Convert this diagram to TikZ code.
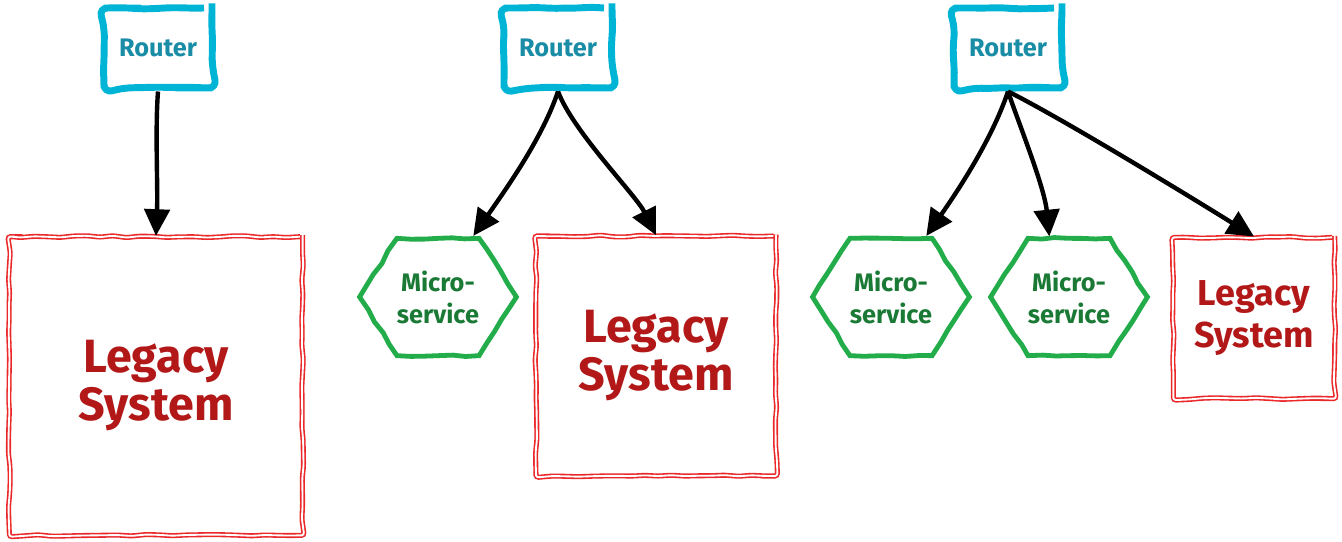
\documentclass[tikz,border=0pt]{standalone}
\usepackage{fontspec}
\setmainfont{Fira Sans}
\usetikzlibrary{arrows.meta,shapes.symbols,decorations.pathmorphing,positioning}

\definecolor{routercyan}{RGB}{0,180,214}
\definecolor{routertext}{RGB}{25,140,166}
\definecolor{legacyred}{RGB}{234,40,42}
\definecolor{legacytext}{RGB}{178,24,24}
\definecolor{microgreen}{RGB}{34,172,74}
\definecolor{microtext}{RGB}{26,122,53}

\begin{document}
\begin{tikzpicture}[x=0.75pt,y=-0.75pt,>={Triangle[length=20pt,width=19pt]}]
    \pgfmathsetseed{7}
    \tikzstyle{sketch}=[decorate,decoration={random steps,segment length=10pt,amplitude=0.7pt}]
    \tikzstyle{link}=[->, line width=3.3pt]
    \tikzstyle{router}=[draw=routercyan, line width=5.2pt, rounded corners=6pt, sketch,
      minimum width=81pt, minimum height=60pt, text=routertext,
      font=\bfseries\fontsize{19}{22}\selectfont]
    \tikzstyle{micro}=[signal, signal to=east and west, signal pointer angle=115,
      draw=microgreen, line width=3.6pt, sketch, minimum width=111pt, minimum height=88pt,
      inner sep=0pt, align=center, text=microtext,
      font=\bfseries\fontsize{19}{24}\selectfont]
    \tikzstyle{legacy}=[draw=legacyred, double=white, double distance=1.4pt, line width=1.2pt,
      sketch, rounded corners=2pt, align=center, text=legacytext,
      font=\bfseries\fontsize{35}{36}\selectfont]

    \useasboundingbox (0,0) rectangle (1342,542);

    % one router, one legacy system
    \node[router]   (r1) at (158,48)  {Router};
    \node[legacy, minimum width=220pt, minimum height=224pt] (l1) at (156,386) {Legacy\\System};

    % first microservice split off
    \node[router]   (r2) at (558,48)  {Router};
    \node[micro]    (m1) at (438,297) {Micro-\\service};
    \node[legacy, minimum size=180pt] (l2) at (656,356) {Legacy\\System};

    % two microservices, smaller legacy
    \node[router]   (r3) at (1008,48) {Router};
    \node[micro]    (m2) at (891,297)  {Micro-\\service};
    \node[micro]    (m3) at (1069,297) {Micro-\\service};
    \node[legacy, minimum size=121pt, font=\bfseries\fontsize{27}{32}\selectfont]
                    (l3) at (1254,318) {Legacy\\System};

    \draw[link] (r1.south) .. controls +(-3,40) and +(2,-50) .. (l1.north);
    \draw[link] (r2.south) .. controls +(-15,45) and +(35,-50) .. (m1.60);
    \draw[link] (r2.south) .. controls +(15,40) and +(-20,-40) .. (l2.north);
    \draw[link] (r3.south) .. controls +(-15,45) and +(35,-50) .. (m2.60);
    \draw[link] (r3.south) .. controls +(10,30) and +(-5,-50) .. (m3.108);
    \draw[link] (r3.south) .. controls +(60,30) and +(-40,-25) .. (l3.north);
\end{tikzpicture}
\end{document}
